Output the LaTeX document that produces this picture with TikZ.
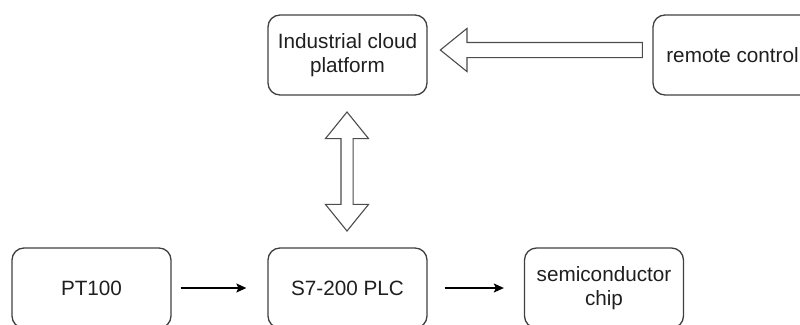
\documentclass[tikz,border=0pt]{standalone}
\usepackage{fontspec}
\setmainfont{Liberation Sans}
\usetikzlibrary{shapes.arrows,arrows.meta}
\begin{document}
\begin{tikzpicture}[x=1pt,y=-1pt,
  box/.style={draw=black!75,line width=1.3pt,rounded corners=12pt,
    minimum width=159pt,minimum height=80pt,align=center,inner sep=2pt,
    font=\fontsize{20.7}{24.5}\selectfont,text=black!88},
  link/.style={line width=1.3pt,-{Stealth[length=10pt,width=9pt,inset=2pt]}},
  hollow/.style={draw=black!70,line width=1.1pt,fill=white,inner sep=0pt,
    minimum width=0pt}
]
\useasboundingbox (0,0) rectangle (800,324);
\node[box] (cloud) at (347.5,55) {Industrial cloud\\platform};
\node[box] (remote) at (732.5,55) {remote control};
\node[box] (pt) at (91.5,288) {PT100};
\node[box] (plc) at (347.5,288) {S7-200 PLC};
\node[box] (chip) at (604,288) {semiconductor\\chip};
\node[hollow,single arrow,rotate=180,inner ysep=7pt,
  single arrow head extend=14pt,single arrow tip angle=78,
  single arrow head indent=0pt,minimum height=202pt] (h) at (546,50) {};
\node[hollow,double arrow,rotate=90,inner ysep=5.5pt,
  double arrow head extend=15.5pt,double arrow tip angle=78,
  double arrow head indent=0pt,minimum height=119pt] (v) at (347,171.5) {};
\draw[link] ([xshift=9pt]pt.east) -- ([xshift=-21pt]plc.west);
\draw[link] ([xshift=17pt]plc.east) -- ([xshift=-20pt]chip.west);
\end{tikzpicture}
\end{document}
